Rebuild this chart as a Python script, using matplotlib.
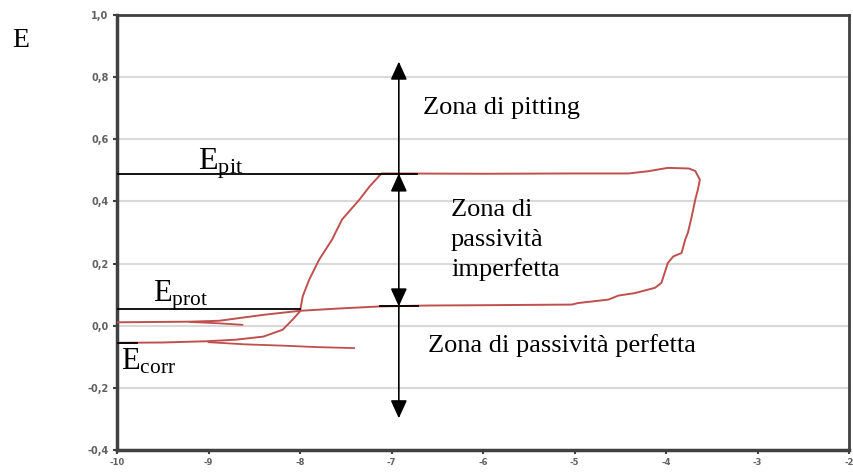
import matplotlib
matplotlib.use("Agg")
import matplotlib.pyplot as plt
from matplotlib.ticker import FuncFormatter

plt.rcParams['mathtext.fontset'] = 'custom'
plt.rcParams['mathtext.rm'] = 'Liberation Serif'

# polarisation loop (log i vs E)
loop_x = [-10.0, -9.5, -9.02, -8.7, -8.4, -8.19, -8.08, -8.0, -7.97, -7.9, -7.79,
          -7.65, -7.54, -7.35, -7.24, -7.11, -7.0, -6.0, -5.0, -4.41, -4.2, -3.98,
          -3.75, -3.68, -3.63, -3.65, -3.68, -3.72, -3.76, -3.79, -3.83, -3.92,
          -3.98, -4.05, -4.12, -4.34, -4.52, -4.63, -4.96, -5.03, -6.0, -6.6,
          -7.13, -7.6, -8.0, -8.4, -8.88, -9.2, -10.0]
loop_y = [-0.055, -0.054, -0.05, -0.045, -0.035, -0.013, 0.02, 0.046, 0.095, 0.148,
          0.213, 0.277, 0.342, 0.406, 0.448, 0.49, 0.49, 0.489, 0.49, 0.49, 0.497,
          0.508, 0.506, 0.498, 0.47, 0.44, 0.406, 0.35, 0.3, 0.277, 0.234, 0.223,
          0.202, 0.138, 0.122, 0.105, 0.097, 0.084, 0.073, 0.068, 0.066, 0.065,
          0.062, 0.055, 0.048, 0.035, 0.016, 0.013, 0.011]
tail_up_x = [-9.2, -8.9, -8.63]
tail_up_y = [0.012, 0.008, 0.003]
tail_low_x = [-9.0, -8.6, -8.2, -7.8, -7.41]
tail_low_y = [-0.053, -0.06, -0.064, -0.069, -0.072]

# characteristic potentials
E_pit = 0.487
E_prot = 0.054
E_corr = -0.056
E_rep = 0.062
arrow_x = -6.92
arrow_top = 0.85
arrow_bottom = -0.298

RED = '#c0504d'
SERIF = 'Liberation Serif'

fig = plt.figure(figsize=(8.54, 4.72), dpi=100)
ax = fig.add_axes([117 / 854, 1 - 450 / 472, (849 - 117) / 854, (450 - 15) / 472])

ax.plot(loop_x, loop_y, color=RED, lw=1.4, zorder=3)
ax.plot(tail_up_x, tail_up_y, color=RED, lw=1.3, zorder=3)
ax.plot(tail_low_x, tail_low_y, color=RED, lw=1.3, zorder=3)

# horizontal markers
ax.plot([-10, -6.72], [E_pit, E_pit], color='black', lw=1.3, zorder=4)
ax.plot([-10, -8.0], [E_prot, E_prot], color='black', lw=1.3, zorder=4)
ax.plot([-10, -9.78], [E_corr, E_corr], color='black', lw=1.3, zorder=4)
ax.plot([-7.13, -6.71], [E_rep, E_rep], color='black', lw=1.3, zorder=4)

# arrows
aprops = dict(color='black', lw=1.2, shrinkA=0, shrinkB=0, mutation_scale=10)
ax.annotate('', xy=(arrow_x, arrow_top), xytext=(arrow_x, E_pit),
            arrowprops=dict(arrowstyle='-|>,head_length=1.1,head_width=0.5', **aprops), zorder=5)
ax.annotate('', xy=(arrow_x, E_pit + 0.003), xytext=(arrow_x, E_rep),
            arrowprops=dict(arrowstyle='<|-|>,head_length=1.1,head_width=0.5', **aprops), zorder=5)
ax.annotate('', xy=(arrow_x, arrow_bottom), xytext=(arrow_x, E_rep),
            arrowprops=dict(arrowstyle='-|>,head_length=1.1,head_width=0.5', **aprops), zorder=5)

# labels
ax.text(-9.12, 0.503, r'$\mathrm{E_{pit}}$', fontsize=23, va='baseline', ha='left')
ax.text(-9.61, 0.078, r'$\mathrm{E_{prot}}$', fontsize=22, va='baseline', ha='left')
ax.text(-9.96, -0.142, r'$\mathrm{E_{corr}}$', fontsize=22, va='baseline', ha='left')
ax.text(-6.66, 0.681, 'Zona di pitting', fontsize=19, family=SERIF, va='baseline')
for i, line in enumerate(['Zona di', 'passività', 'imperfetta']):
    ax.text(-6.35, 0.352 - i * 30 / 310, line, fontsize=19, family=SERIF, va='baseline')
ax.text(-6.60, -0.084, 'Zona di passività perfetta', fontsize=19, family=SERIF, va='baseline')
fig.text(12 / 854, 1 - 47 / 472, 'E', fontsize=20, family=SERIF, va='baseline')

# axes styling
ax.set_xlim(-10, -2)
ax.set_ylim(-0.4, 1.0)
ax.set_xticks(range(-10, -1))
ax.set_yticks([-0.4, -0.2, 0.0, 0.2, 0.4, 0.6, 0.8, 1.0])
ax.yaxis.set_major_formatter(FuncFormatter(lambda v, p: f'{v:.1f}'.replace('.', ',').replace('-0,0', '0,0')))
ax.xaxis.set_major_formatter(FuncFormatter(lambda v, p: f'{int(round(v))}'))
ax.grid(axis='y', color='#d9d9d9', lw=1.5, zorder=0)
ax.set_axisbelow(True)
for s in ax.spines.values():
    s.set_color('#404040')
    s.set_linewidth(2)
ax.spines['left'].set_linewidth(2.5)
ax.spines['bottom'].set_linewidth(2.5)
ax.tick_params(axis='both', direction='out', length=3, width=1.5, color='#404040',
               labelsize=7, labelcolor='#606060', pad=3)
for lab in ax.get_xticklabels() + ax.get_yticklabels():
    lab.set_fontweight('bold')
ax.tick_params(axis='x', labelsize=6)

fig.savefig('out.png', dpi=100)
